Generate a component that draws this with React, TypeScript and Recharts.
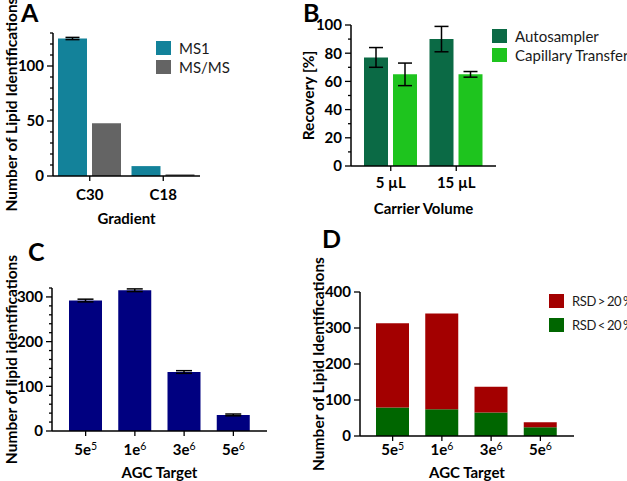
import React from 'react';
import { BarChart, Bar, XAxis, YAxis, ErrorBar } from 'recharts';

// Panel A: gradient comparison
const gradientCats = ['C30', 'C18'];
const ms1Values = [125, 9];
const ms1Err = [1, null];
const msmsValues = [48, 1.5];

// Panel B: carrier volume recovery
const volumeCats = ['5 µL', '15 µL'];
const autosamplerValues = [77, 90];
const autosamplerErr = [7, 9];
const capillaryValues = [65, 65];
const capillaryErr = [8, 2];

// Panel C / D: AGC target
const agcBase = ['5e', '1e', '3e', '5e'];
const agcExp = ['5', '6', '6', '6'];
const lipidIds = [292, 315, 132, 36];
const lipidErr = [3, 3, 3, 2];
const rsdBelow = [79, 74, 65, 24];
const rsdAbove = [234, 266, 72, 14];

const ticksA = [0, 10, 20, 30, 40, 50, 60, 70, 80, 90, 100, 110, 120, 130];
const ticksB = [0, 10, 20, 30, 40, 50, 60, 70, 80, 90, 100];
const ticksC = [0, 20, 40, 60, 80, 100, 120, 140, 160, 180, 200, 220, 240, 260, 280, 300, 320];
const ticksD = [0, 100, 200, 300, 400];

const COLORS = {
  ms1: '#13829a',
  msms: '#646464',
  autosampler: '#0b6a45',
  capillary: '#1ec41e',
  navy: '#000080',
  red: '#a30000',
  green: '#006600',
};

const FONT = 'Lato, "Open Sans", sans-serif';
const axisLine = { stroke: '#000', strokeWidth: 1.5 };
const tickStyle = { fill: '#000', fontSize: 15, fontWeight: 700, fontFamily: FONT };
const xTitleStyle = { fill: '#000', fontSize: 15, fontWeight: 700, fontFamily: FONT };
const yTitleStyle = { fill: '#000', fontSize: 15.5, fontWeight: 700, fontFamily: FONT };

const dataA = gradientCats.map((name, i) => ({ name, ms1: ms1Values[i], ms1Err: ms1Err[i], msms: msmsValues[i] }));
const dataB = volumeCats.map((name, i) => ({
  name,
  auto: autosamplerValues[i],
  autoErr: autosamplerErr[i],
  cap: capillaryValues[i],
  capErr: capillaryErr[i],
}));
const dataC = agcBase.map((b, i) => ({ name: `${b}^${agcExp[i]}`, ids: lipidIds[i], err: lipidErr[i] }));
const dataD = agcBase.map((b, i) => ({ name: `${b}^${agcExp[i]}`, below: rsdBelow[i], above: rsdAbove[i] }));

// y tick with major/minor marks
const makeYTick = (major: number) => (props: any) => {
  const { x, y, payload } = props;
  const isMajor = payload.value % major === 0;
  const axisX = x + 9;
  return (
    <g>
      <line x1={axisX - (isMajor ? 6 : 3)} x2={axisX} y1={y} y2={y} stroke="#000" strokeWidth={1.3} />
      {isMajor && (
        <text x={x} y={y} dy="0.36em" textAnchor="end" {...tickStyle}>
          {payload.value}
        </text>
      )}
    </g>
  );
};

const AgcTick = (props: any) => {
  const { x, y, payload } = props;
  const [base, exp] = String(payload.value).split('^');
  return (
    <text x={x} y={y} dy="0.85em" textAnchor="middle" {...tickStyle}>
      <tspan>{base}</tspan>
      <tspan dy="-0.5em" fontSize={10.5} fontWeight={400}>{exp}</tspan>
    </text>
  );
};

type LegendProps = {
  items: { label: string; color: string }[];
  style: React.CSSProperties;
  gap: number;
  textStyle?: React.CSSProperties;
};

const Legend = ({ items, style, gap, textStyle }: LegendProps) => (
  <div style={{ position: 'absolute', ...style }}>
    {items.map((it) => (
      <div key={it.label} style={{ display: 'flex', alignItems: 'center', height: 19, marginBottom: gap, whiteSpace: 'nowrap' }}>
        <div style={{ width: 15, height: 14, background: it.color, marginRight: 8 }} />
        <span style={{ fontFamily: FONT, fontSize: 15, color: '#1a1a1a', ...textStyle }}>{it.label}</span>
      </div>
    ))}
  </div>
);

const PanelLetter = ({ text, left, top }: { text: string; left: number; top: number }) => (
  <div
    style={{
      position: 'absolute',
      left,
      top,
      fontFamily: FONT,
      fontWeight: 700,
      fontSize: 25,
      lineHeight: '25px',
      color: '#000',
    }}
  >
    {text}
  </div>
);

const yLabel = (value: string, offset: number) => ({
  value,
  angle: -90,
  position: 'insideLeft' as const,
  offset,
  style: { ...yTitleStyle, textAnchor: 'middle' },
});

const xLabel = (value: string, offset: number) => ({
  value,
  position: 'insideBottom' as const,
  offset,
  style: xTitleStyle,
});

export default function App() {
  return (
    <div style={{ position: 'absolute', left: 0, top: 0, width: 627, height: 481, background: '#fff', overflow: 'hidden' }}>
      {/* A */}
      <div style={{ position: 'absolute', left: 0, top: 0 }}>
        <BarChart width={310} height={230} data={dataA} margin={{ top: 33, right: 110, bottom: 0, left: 0 }} barSize={29} barGap={5}>
          <XAxis dataKey="name" height={54} axisLine={axisLine} tickLine={{ stroke: '#000', strokeWidth: 1.3 }} tickSize={5} tickMargin={8} tick={tickStyle} label={xLabel('Gradient', 6)} />
          <YAxis width={53} domain={[0, 130]} ticks={ticksA} interval={0} axisLine={axisLine} tickLine={false} tickSize={6} tickMargin={3} tick={makeYTick(50)} label={yLabel('Number of Lipid Identifications', 11)} />
          <Bar dataKey="ms1" fill={COLORS.ms1} isAnimationActive={false}>
            <ErrorBar dataKey="ms1Err" width={7} stroke="#000" strokeWidth={1.5} direction="y" />
          </Bar>
          <Bar dataKey="msms" fill={COLORS.msms} isAnimationActive={false} />
        </BarChart>
        <Legend items={[{ label: 'MS1', color: COLORS.ms1 }, { label: 'MS/MS', color: COLORS.msms }]} style={{ left: 156, top: 38 }} gap={0} />
      </div>
      <PanelLetter text="A" left={21} top={0} />

      {/* B */}
      <div style={{ position: 'absolute', left: 300, top: 0 }}>
        <BarChart width={327} height={230} data={dataB} margin={{ top: 25, right: 131, bottom: 0, left: 0 }} barSize={24} barGap={5}>
          <XAxis dataKey="name" height={64} padding={{ left: 7, right: 7 }} axisLine={axisLine} tickLine={{ stroke: '#000', strokeWidth: 1.3 }} tickSize={5} tickMargin={6} tick={tickStyle} label={xLabel('Carrier Volume', 16)} />
          <YAxis width={51} domain={[0, 100]} ticks={ticksB} interval={0} axisLine={axisLine} tickLine={false} tickSize={6} tickMargin={3} tick={makeYTick(20)} label={yLabel('Recovery [%]', 8)} />
          <Bar dataKey="auto" fill={COLORS.autosampler} isAnimationActive={false}>
            <ErrorBar dataKey="autoErr" width={7} stroke="#000" strokeWidth={1.5} direction="y" />
          </Bar>
          <Bar dataKey="cap" fill={COLORS.capillary} isAnimationActive={false}>
            <ErrorBar dataKey="capErr" width={7} stroke="#000" strokeWidth={1.5} direction="y" />
          </Bar>
        </BarChart>
        <Legend items={[{ label: 'Autosampler', color: COLORS.autosampler }, { label: 'Capillary Transfer', color: COLORS.capillary }]} style={{ left: 192, top: 26 }} gap={0} />
      </div>
      <PanelLetter text="B" left={303} top={0} />

      {/* C */}
      <div style={{ position: 'absolute', left: 0, top: 230 }}>
        <BarChart width={310} height={251} data={dataC} margin={{ top: 58, right: 43, bottom: 0, left: 0 }} barSize={33}>
          <XAxis dataKey="name" height={50} padding={{ left: 9, right: 9 }} axisLine={axisLine} tickLine={{ stroke: '#000', strokeWidth: 1.3 }} tickSize={5} tickMargin={6} tick={<AgcTick />} label={xLabel('AGC Target', 3)} />
          <YAxis width={52} domain={[0, 320]} ticks={ticksC} interval={0} axisLine={axisLine} tickLine={false} tickSize={6} tickMargin={3} tick={makeYTick(100)} label={yLabel('Number of lipid identifications', 11)} />
          <Bar dataKey="ids" fill={COLORS.navy} isAnimationActive={false}>
            <ErrorBar dataKey="err" width={8} stroke="#000" strokeWidth={1.5} direction="y" />
          </Bar>
        </BarChart>
      </div>
      <PanelLetter text="C" left={28} top={239} />

      {/* D */}
      <div style={{ position: 'absolute', left: 310, top: 230 }}>
        <BarChart width={317} height={251} data={dataD} margin={{ top: 62, right: 53, bottom: 0, left: 0 }} barSize={33}>
          <XAxis dataKey="name" height={45} padding={{ left: 8, right: 9 }} axisLine={axisLine} tickLine={{ stroke: '#000', strokeWidth: 1.3 }} tickSize={5} tickMargin={1} tick={<AgcTick />} label={xLabel('AGC Target', 3)} />
          <YAxis width={50} domain={[0, 400]} ticks={ticksD} interval={0} axisLine={axisLine} tickLine={false} tickSize={6} tickMargin={3} tick={makeYTick(100)} label={yLabel('Number of Lipid Identifications', 8)} />
          <Bar dataKey="below" stackId="rsd" fill={COLORS.green} isAnimationActive={false} />
          <Bar dataKey="above" stackId="rsd" fill={COLORS.red} isAnimationActive={false} />
        </BarChart>
        <Legend
          items={[{ label: 'RSD > 20 %', color: COLORS.red }, { label: 'RSD < 20 %', color: COLORS.green }]}
          style={{ left: 239, top: 61 }}
          gap={5}
          textStyle={{ fontSize: 13, letterSpacing: -0.4, wordSpacing: -1 }}
        />
      </div>
      <PanelLetter text="D" left={322} top={226} />
    </div>
  );
}
